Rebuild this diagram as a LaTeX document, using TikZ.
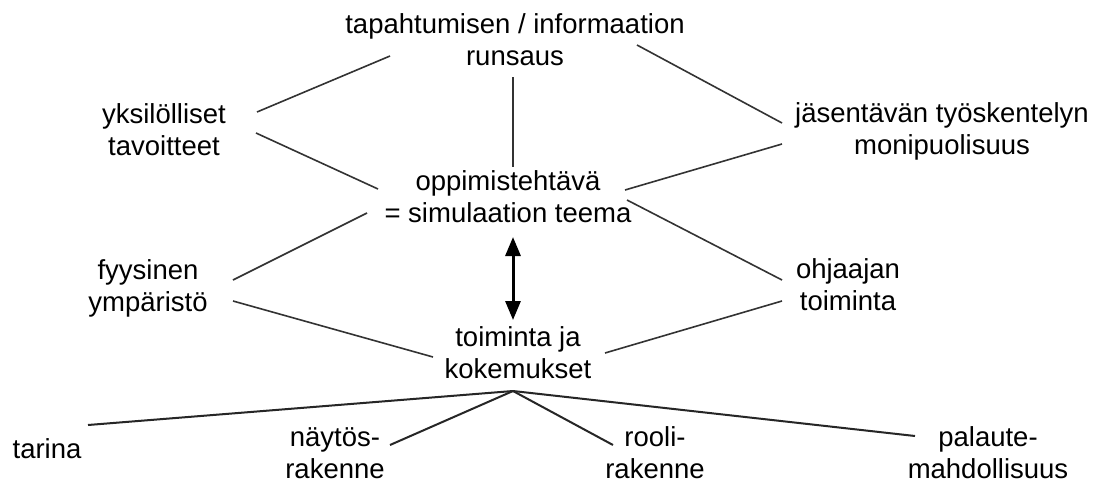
\documentclass[tikz,border=0pt]{standalone}
\usepackage{fontspec}
\setmainfont{Liberation Sans}
\usetikzlibrary{arrows.meta}
\begin{document}
\begin{tikzpicture}[x=1pt,y=-1pt,
  lbl/.style={align=center,inner sep=0pt,anchor=base,font=\fontsize{27.5}{32}\selectfont},
  con/.style={line width=1.6pt,draw=black!80},
  fan/.style={line width=2pt,draw=black!85},
  twoway/.style={line width=3pt,{Triangle[width=15pt,length=19pt]}-{Triangle[width=15pt,length=19pt]}}]
\useasboundingbox[fill=white] (0,0) rectangle (1101,483);
\node[lbl] (top) at (515,65) {tapahtumisen / informaation\\runsaus};
\node[lbl] (yks) at (164,155) {yksilölliset\\tavoitteet};
\node[lbl] (jas) at (942,154) {jäsentävän työskentelyn\\monipuolisuus};
\node[lbl] (opp) at (508,222) {oppimistehtävä\\= simulaation teema};
\node[lbl] (fyy) at (148,311) {fyysinen\\ympäristö};
\node[lbl] (ohj) at (848,310) {ohjaajan\\toiminta};
\node[lbl] (toi) at (518,378) {toiminta ja\\kokemukset};
\node[lbl] (tar) at (47,458) {tarina};
\node[lbl] (nay) at (335,478) {näytös-\\rakenne};
\node[lbl] (roo) at (655,478) {rooli-\\rakenne};
\node[lbl] (pal) at (988,478) {palaute-\\mahdollisuus};
\coordinate (apex) at ([shift={(-5,13)}]toi.base);
\draw[con] ([shift={(93,-43)}]yks.base) -- ([shift={(-125,-9)}]top.base);
\draw[con] ([shift={(122,-20)}]top.base) -- ([shift={(-160,-31)}]jas.base);
\draw[con] ([shift={(-2,12)}]top.base) -- ([shift={(5,-55)}]opp.base);
\draw[con] ([shift={(92,-22)}]yks.base) -- ([shift={(-130,-33)}]opp.base);
\draw[con] ([shift={(-160,-10)}]jas.base) -- ([shift={(117,-32)}]opp.base);
\draw[con] ([shift={(-141,-9)}]opp.base) -- ([shift={(85,-31)}]fyy.base);
\draw[con] ([shift={(119,-22)}]opp.base) -- ([shift={(-66,-30)}]ohj.base);
\draw[twoway] ([shift={(5,15)}]opp.base) -- ([shift={(-5,-58)}]toi.base);
\draw[con] ([shift={(85,-10)}]fyy.base) -- ([shift={(-85,-21)}]toi.base);
\draw[con] ([shift={(-66,-9)}]ohj.base) -- ([shift={(87,-25)}]toi.base);
\draw[fan] (apex) -- ([shift={(41,-33)}]tar.base);
\draw[fan] (apex) -- ([shift={(55,-33)}]nay.base);
\draw[fan] (apex) -- ([shift={(-42,-33)}]roo.base);
\draw[fan] (apex) -- ([shift={(-73,-42)}]pal.base);
\end{tikzpicture}
\end{document}
